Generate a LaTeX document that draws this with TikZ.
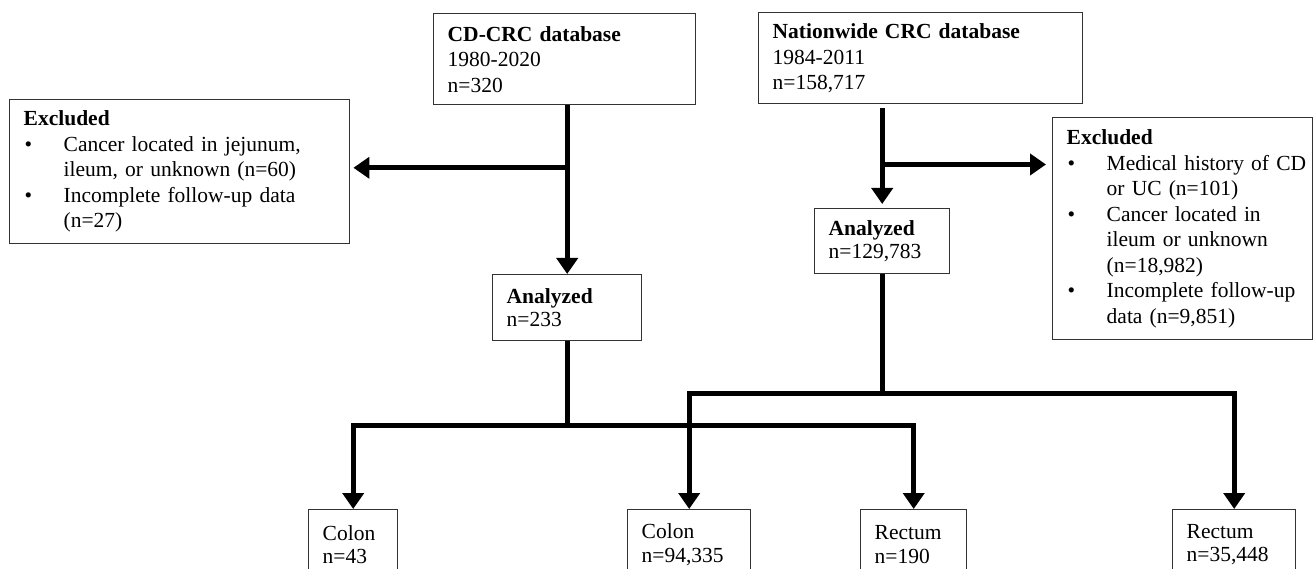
\documentclass[tikz,border=0pt]{standalone}
\usepackage{fontspec}
\setmainfont{Liberation Serif}
\usetikzlibrary{arrows.meta,calc}
\newcommand\bul[1]{\makebox[40pt][l]{\hspace{1pt}\textbullet}\mbox{#1}}
\newcommand\cont[1]{\hspace*{40pt}\mbox{#1}}
\begin{document}
\begin{tikzpicture}[x=1pt,y=-1pt,
  box/.style={draw=black!80, line width=1.4pt, inner xsep=14pt, inner ysep=0pt,
    align=left, anchor=north west, font=\fontsize{21.5}{25.5}\selectfont},
  smallbox/.style={box, font=\fontsize{21.5}{23.5}\selectfont},
  conn/.style={line width=4.8pt, draw=black},
  arr/.style={conn, -{Triangle[width=21pt,length=16pt]}}]
\clip (0,0) rectangle (1314,569);
\fill[white] (0,0) rectangle (1314,569);

\node[box, text width=234pt, minimum height=91pt] (cd) at (433,13)
  {\textbf{CD-CRC database}\\1980-2020\\n=320};
\node[box, text width=296pt, minimum height=91pt] (nw) at (758,12)
  {\textbf{Nationwide CRC database}\\1984-2011\\n=158,717};
\node[box, text width=312pt, minimum height=144pt] (exl) at (9,99)
  {\textbf{Excluded}\\\bul{Cancer located in jejunum,}\\\cont{ileum, or unknown (n=60)}\\\bul{Incomplete follow-up data}\\\cont{(n=27)}};
\node[box, text width=232pt, minimum height=222pt] (exr) at (1052,117)
  {\textbf{Excluded}\\\bul{Medical history of CD}\\\cont{or UC (n=101)}\\\bul{Cancer located in}\\\cont{ileum or unknown}\\\cont{(n=18,982)}\\\bul{Incomplete follow-up}\\\cont{data (n=9,851)}};
\node[smallbox, text width=121pt, minimum height=66pt] (anl) at (492,274)
  {\textbf{Analyzed}\\n=233};
\node[smallbox, text width=107pt, minimum height=65pt] (anr) at (814,208)
  {\textbf{Analyzed}\\n=129,783};
\node[smallbox, text width=61pt, minimum height=70pt] (b1) at (308,509)
  {Colon\\n=43};
\node[smallbox, text width=95pt, minimum height=70pt] (b2) at (627,509)
  {Colon\\n=94,335};
\node[smallbox, text width=78pt, minimum height=70pt] (b3) at (860,509)
  {Rectum\\n=190};
\node[smallbox, text width=95pt, minimum height=70pt] (b4) at (1172,509)
  {Rectum\\n=35,448};

% CD-CRC branch
\draw[arr] (anl.north |- cd.south) -- (anl.north);
\coordinate (jl) at ($(anl.north |- cd.south)!0.37!(anl.north)$);
\draw[arr, shorten >=3pt] (jl) -- (exl.east |- jl);

% Nationwide branch
\draw[arr, shorten <=4pt, shorten >=4pt] (anr.north |- nw.south) -- (anr.north);
\coordinate (jr) at ($(anr.north |- nw.south)!0.58!(anr.north)$);
\draw[arr, shorten >=6pt] (jr) -- (exr.west |- jr);

% split to sites
\coordinate (cl) at ($(anl.south)+(0,84)$);
\draw[conn] (anl.south) -- (cl);
\draw[arr] (cl) -| (b1.north);
\draw[arr] (cl) -| (b3.north);

\coordinate (cr) at ($(anr.south)+(0,119)$);
\draw[conn] (anr.south) -- (cr);
\draw[arr] (cr) -| (b2.north);
\draw[arr] (cr) -| (b4.north);
\end{tikzpicture}
\end{document}
